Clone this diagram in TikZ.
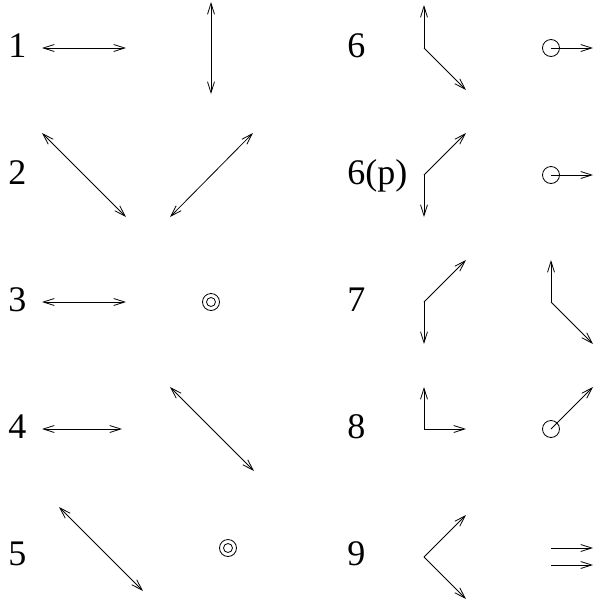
\documentclass[tikz,border=0pt]{standalone}
\usepackage{fontspec}
\setmainfont{Liberation Serif}
\usetikzlibrary{arrows.meta}

\begin{document}
\begin{tikzpicture}[x=1pt, y=-1pt, line width=0.8pt,
    >={Straight Barb[length=11pt, width=7pt]},
    lbl/.style={anchor=base west, inner sep=0pt, font=\fontsize{36}{40}\selectfont}]

    % --- PARAMETERS ---
    \def\rp{127}  % row pitch
    \def\rc{8.5}  % small circle radius
    \def\ri{4.5}  % inner circle radius

    \useasboundingbox (0,0) rectangle (595,606);

    % --- ROW 1 / 6 ---
    \begin{scope}[shift={(0,48)}]
        \node[lbl] (n1) at (8,9) {1};
        \coordinate (A1l) at (42,0);
        \coordinate (A1r) at (126,0);
        \draw[<->] (A1l) -- (A1r);
        \coordinate (B1t) at (211,-46);
        \coordinate (B1b) at (211,46);
        \draw[<->] (B1t) -- (B1b);

        \node[lbl] (n6) at (347,9) {6};
        \coordinate (V6) at (424,0);
        \coordinate (V6u) at (424,-43);
        \coordinate (V6d) at (466,42);
        \draw[->] (V6) -- (V6u);
        \draw[->] (V6) -- (V6d);
        \coordinate (C6) at (551,0);
        \coordinate (C6e) at (593,0);
        \draw (C6) circle (\rc);
        \draw[->] (C6) -- (C6e);
    \end{scope}

    % --- ROW 2 / 6(p) ---
    \begin{scope}[shift={(0,48+\rp)}]
        \node[lbl] (n2) at (8,9) {2};
        \coordinate (A2l) at (42,-42);
        \coordinate (A2r) at (126,42);
        \draw[<->] (A2l) -- (A2r);
        \coordinate (B2t) at (253,-42);
        \coordinate (B2b) at (170,42);
        \draw[<->] (B2t) -- (B2b);

        \node[lbl] (n6p) at (347,9) {6(p)};
        \coordinate (V6p) at (424,0);
        \coordinate (V6pu) at (466,-42);
        \coordinate (V6pd) at (424,42);
        \draw[->] (V6p) -- (V6pu);
        \draw[->] (V6p) -- (V6pd);
        \coordinate (C6p) at (551,0);
        \coordinate (C6pe) at (593,0);
        \draw (C6p) circle (\rc);
        \draw[->] (C6p) -- (C6pe);
    \end{scope}

    % --- ROW 3 / 7 ---
    \begin{scope}[shift={(0,48+2*\rp)}]
        \node[lbl] (n3) at (8,9) {3};
        \coordinate (A3l) at (42,0);
        \coordinate (A3r) at (126,0);
        \draw[<->] (A3l) -- (A3r);
        \coordinate (D3) at (211,0);
        \draw (D3) circle (\rc) (D3) circle (\ri);

        \node[lbl] (n7) at (347,9) {7};
        \coordinate (V7) at (424,0);
        \coordinate (V7u) at (466,-42);
        \coordinate (V7d) at (424,42);
        \draw[->] (V7) -- (V7u);
        \draw[->] (V7) -- (V7d);
        \coordinate (W7) at (551,0);
        \coordinate (W7u) at (551,-42);
        \coordinate (W7d) at (593,42);
        \draw[->] (W7) -- (W7u);
        \draw[->] (W7) -- (W7d);
    \end{scope}

    % --- ROW 4 / 8 ---
    \begin{scope}[shift={(0,48+3*\rp)}]
        \node[lbl] (n4) at (8,9) {4};
        \coordinate (A4l) at (42,0);
        \coordinate (A4r) at (122,0);
        \draw[<->] (A4l) -- (A4r);
        \coordinate (B4t) at (170,-42);
        \coordinate (B4b) at (254,42);
        \draw[<->] (B4t) -- (B4b);

        \node[lbl] (n8) at (347,9) {8};
        \coordinate (V8) at (424,0);
        \coordinate (V8u) at (424,-42);
        \coordinate (V8r) at (466,0);
        \draw[->] (V8) -- (V8u);
        \draw[->] (V8) -- (V8r);
        \coordinate (C8) at (551,0);
        \coordinate (C8e) at (593,-42);
        \draw (C8) circle (\rc);
        \draw[->] (C8) -- (C8e);
    \end{scope}

    % --- ROW 5 / 9 ---
    \begin{scope}[shift={(0,48+4*\rp)}]
        \node[lbl] (n5) at (8,9) {5};
        \coordinate (A5t) at (59,-49);
        \coordinate (A5b) at (143,35);
        \draw[<->] (A5t) -- (A5b);
        \coordinate (D5) at (228,-8);
        \draw (D5) circle (\rc) (D5) circle (\ri);

        \node[lbl] (n9) at (347,9) {9};
        \coordinate (V9) at (424,1);
        \coordinate (V9u) at (466,-41);
        \coordinate (V9d) at (466,43);
        \draw[->] (V9) -- (V9u);
        \draw[->] (V9) -- (V9d);
        % two parallel arrows
        \coordinate (P9a) at (551,-8);
        \coordinate (P9ae) at (593,-8);
        \coordinate (P9b) at (551,9);
        \coordinate (P9be) at (593,9);
        \draw[->] (P9a) -- (P9ae);
        \draw[->] (P9b) -- (P9be);
    \end{scope}

\end{tikzpicture}
\end{document}
